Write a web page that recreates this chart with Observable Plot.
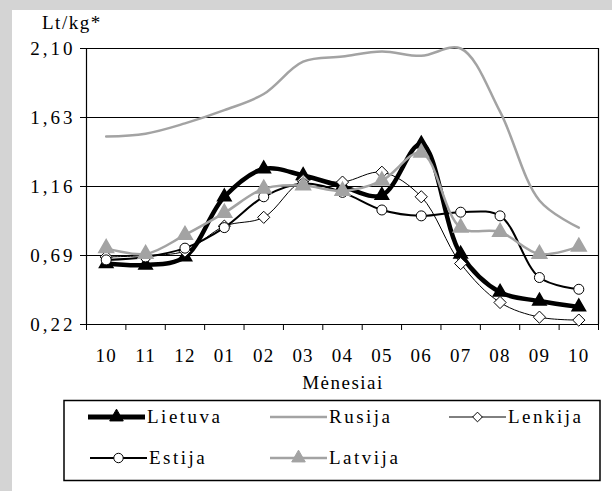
<!DOCTYPE html>
<html><head><meta charset="utf-8">
<script src="https://cdn.jsdelivr.net/npm/d3@7"></script>
<script src="https://cdn.jsdelivr.net/npm/@observablehq/plot@0.6"></script>
<style>
body{margin:0;background:#fff;}
#wrap{position:relative;width:612px;height:491px;background:#fff;overflow:hidden;font-family:"Liberation Serif",serif;}
#bandTop{position:absolute;left:0;top:0;width:612px;height:10px;background:#d4d4d4;}
#bandLeft{position:absolute;left:0;top:0;width:12px;height:491px;background:#d4d4d4;}
#chart,#legend{position:absolute;left:0;top:0;}
.t{position:absolute;font-size:19px;color:#000;letter-spacing:1.5px;white-space:nowrap;font-family:"Liberation Serif",serif;}
</style></head><body>
<div id="wrap">
<div id="bandTop"></div><div id="bandLeft"></div>
<div id="chart"></div>
<svg id="legend" width="612" height="491"></svg>
<div class="t" style="left:42px;top:12px;">Lt/kg*</div>
<div class="t" style="left:0;width:686px;text-align:center;top:372px;">Mėnesiai</div>
</div>
<script>
const months = ["10","11","12","01","02","03","04","05","06","07","08","09","10"];
const yTicks = [0.22, 0.69, 1.16, 1.63, 2.10];
const lietuva = [0.635, 0.625, 0.68, 1.09, 1.28, 1.235, 1.16, 1.10, 1.45, 0.70, 0.44, 0.38, 0.34];
const rusija  = [1.50, 1.52, 1.59, 1.68, 1.79, 2.01, 2.045, 2.08, 2.05, 2.10, 1.67, 1.065, 0.88];
const lenkija = [0.68, 0.69, 0.72, 0.89, 0.95, 1.20, 1.19, 1.257, 1.09, 0.635, 0.37, 0.27, 0.25];
const estija  = [0.66, 0.68, 0.74, 0.88, 1.09, 1.18, 1.12, 1.00, 0.96, 0.985, 0.96, 0.54, 0.46];
const latvija = [0.74, 0.70, 0.83, 0.98, 1.145, 1.167, 1.13, 1.20, 1.39, 0.88, 0.85, 0.70, 0.75];

const idx = d3.range(months.length);
const rows = arr => arr.map((v, i) => ({i, v}));
const gray = "#a3a3a3";
const curve = "catmull-rom";
const boundaries = d3.range(months.length + 1).map(k => k - 0.5);
const FONT = "Liberation Serif, serif";

const chart = Plot.plot({
  width: 612, height: 400,
  marginLeft: 86, marginRight: 14, marginTop: 48, marginBottom: 76,
  style: {fontFamily: FONT, fontSize: "19px", background: "transparent", overflow: "visible", letterSpacing: "1.2px"},
  x: {domain: [-0.5, months.length - 0.5]},
  y: {domain: [0.22, 2.10]},
  marks: [
    Plot.gridY({ticks: yTicks, stroke: "#000", strokeOpacity: 1, strokeWidth: 1}),
    Plot.ruleX([-0.5, months.length - 0.5], {stroke: "#000", strokeWidth: 1.2}),
    Plot.axisY({ticks: yTicks, tickFormat: d => d.toFixed(2).replace(".", ","), tickSize: 6, tickPadding: 5, label: null, fill: "#000"}),
    Plot.axisX({ticks: boundaries, tickFormat: () => "", tickSize: 6, label: null}),
    Plot.axisX({ticks: idx, tickFormat: i => months[i], tickSize: 0, tickPadding: 24, label: null, fill: "#000"}),
    // Lietuva
    Plot.line(rows(lietuva), {x: "i", y: "v", stroke: "#000", strokeWidth: 4.5, curve}),
    Plot.dot(rows(lietuva), {x: "i", y: "v", symbol: "triangle", r: 5, fill: "#000", stroke: "#000"}),
    // Rusija
    Plot.line(rows(rusija), {x: "i", y: "v", stroke: gray, strokeWidth: 2.5, curve}),
    // Lenkija
    Plot.line(rows(lenkija), {x: "i", y: "v", stroke: "#000", strokeWidth: 1, curve}),
    Plot.dot(rows(lenkija), {x: "i", y: "v", symbol: "diamond2", r: 5.5, fill: "#fff", stroke: "#000", strokeWidth: 1}),
    // Estija
    Plot.line(rows(estija), {x: "i", y: "v", stroke: "#000", strokeWidth: 2, curve}),
    Plot.dot(rows(estija), {x: "i", y: "v", symbol: "circle", r: 5, fill: "#fff", stroke: "#000", strokeWidth: 1}),
    // Latvija
    Plot.line(rows(latvija), {x: "i", y: "v", stroke: gray, strokeWidth: 2.5, curve}),
    Plot.dot(rows(latvija), {x: "i", y: "v", symbol: "triangle", r: 5.5, fill: gray, stroke: gray})
  ]
});
d3.select(chart).selectAll('g[aria-label="y-axis tick label"] text').attr("letter-spacing", "3px");
document.getElementById("chart").appendChild(chart);

// Legend
const lg = d3.select("#legend");
lg.append("rect").attr("x", 64).attr("y", 400.5).attr("width", 536).attr("height", 80)
  .attr("fill", "none").attr("stroke", "#000").attr("stroke-width", 1.5);
const items = [
  {name: "Lietuva", x: 88, y: 417, stroke: "#000", sw: 5, sym: d3.symbolTriangle, fill: "#000", size: 80},
  {name: "Rusija", x: 270, y: 417, stroke: gray, sw: 2.5, sym: null},
  {name: "Lenkija", x: 449, y: 417, stroke: "#000", sw: 1, sym: d3.symbolDiamond2, fill: "#fff", size: 60},
  {name: "Estija", x: 90, y: 458, stroke: "#000", sw: 2, sym: d3.symbolCircle, fill: "#fff", size: 70},
  {name: "Latvija", x: 270, y: 458, stroke: gray, sw: 2.5, sym: d3.symbolTriangle, fill: gray, size: 80}
];
for (const it of items) {
  const x2 = it.x + 57;
  lg.append("line").attr("x1", it.x).attr("x2", x2).attr("y1", it.y).attr("y2", it.y)
    .attr("stroke", it.stroke).attr("stroke-width", it.sw);
  if (it.sym) {
    lg.append("path").attr("d", d3.symbol(it.sym, it.size)())
      .attr("transform", `translate(${(it.x + x2) / 2},${it.y})`)
      .attr("fill", it.fill).attr("stroke", it.fill === "#fff" ? "#000" : it.fill).attr("stroke-width", 1);
  }
  lg.append("text").attr("x", x2 + 2).attr("y", it.y + 6)
    .attr("font-family", FONT).attr("font-size", 19).attr("letter-spacing", "2.5px")
    .text(it.name);
}
</script>
</body></html>
